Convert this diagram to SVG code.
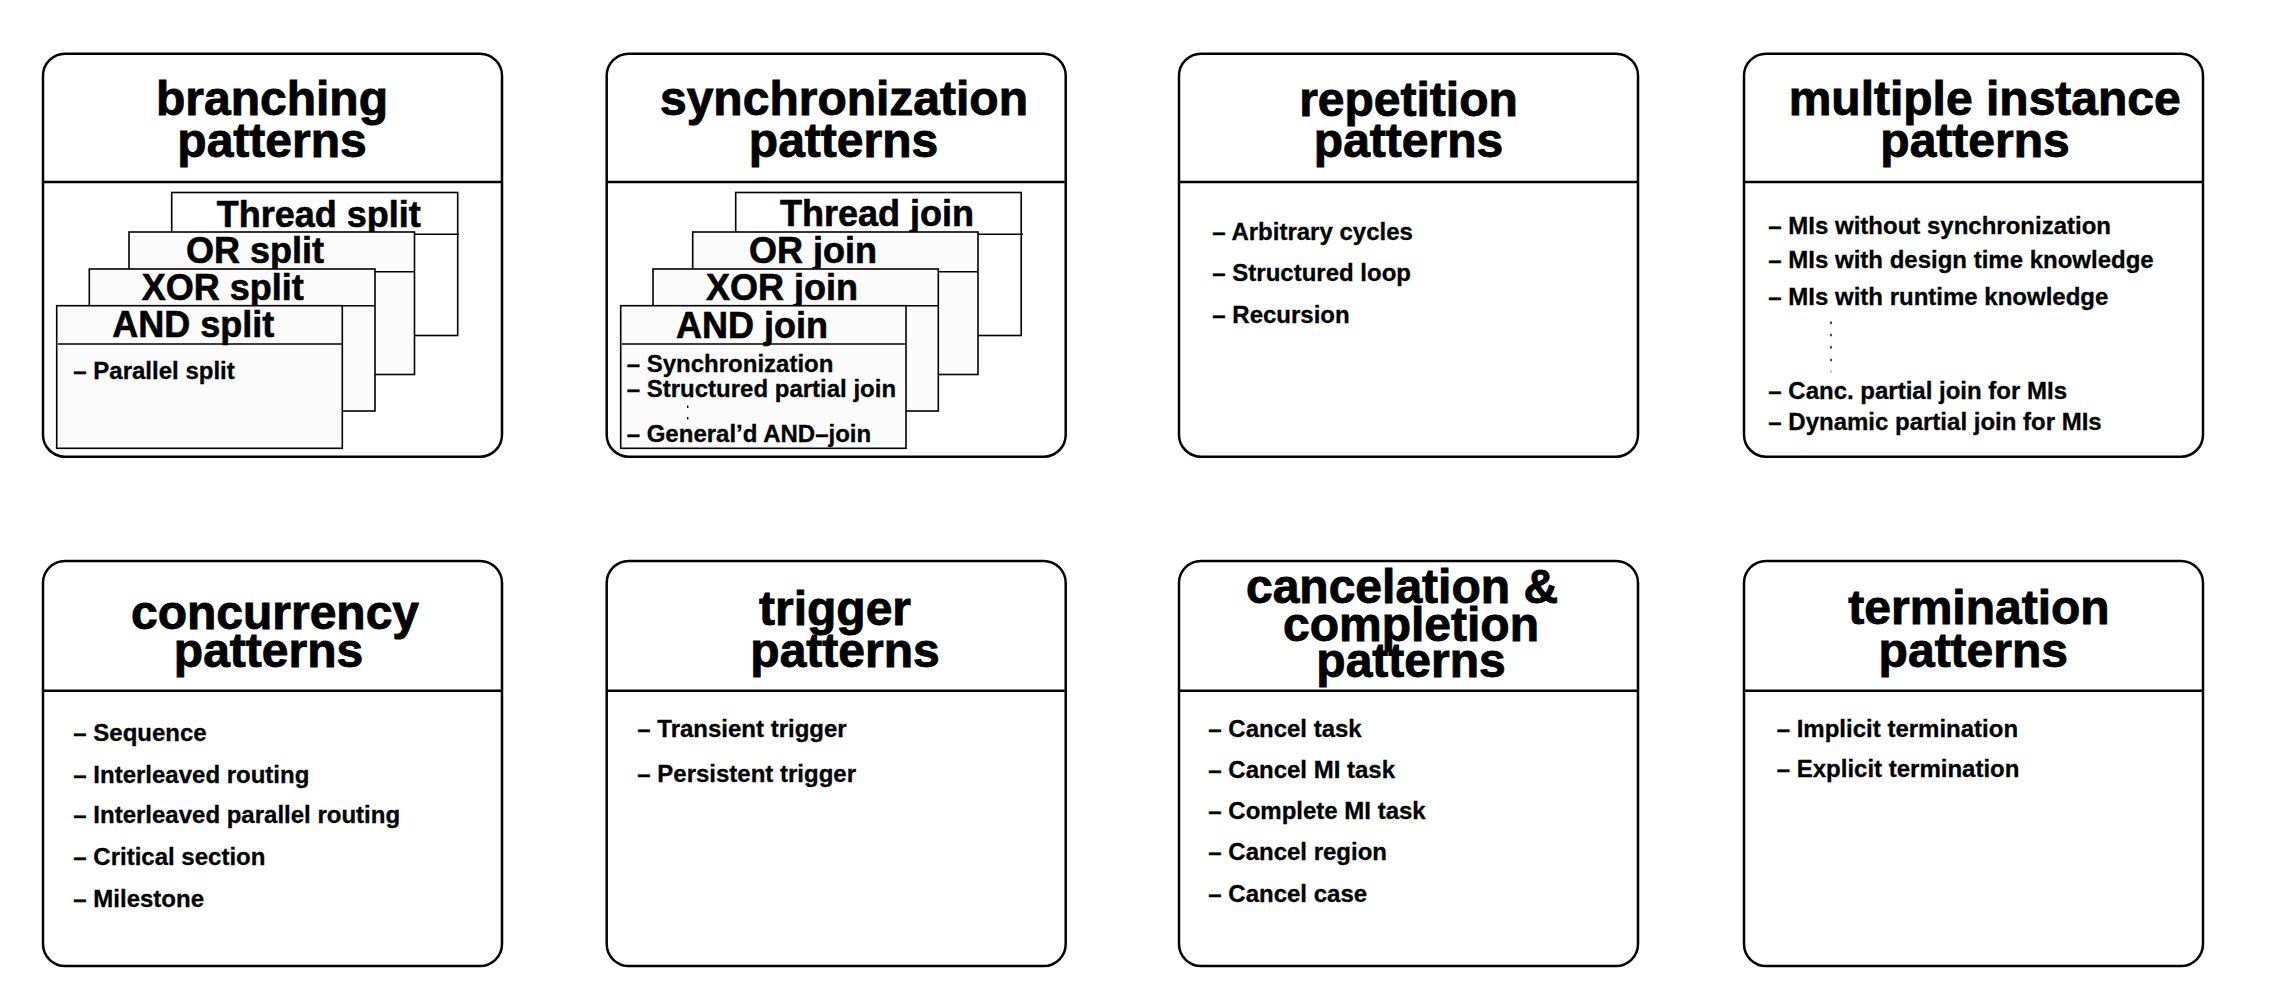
<svg xmlns="http://www.w3.org/2000/svg" width="2274" height="1008" viewBox="0 0 2274 1008">
<style>
.box{fill:#fff;stroke:#000;stroke-width:2.5}
.div{stroke:#000;stroke-width:2.5}
.card{fill:#fbfbfb;stroke:#000;stroke-width:1.6}
.cardw{fill:#fff;stroke:#000;stroke-width:1.6}
.hl{stroke:#000;stroke-width:1.6}
.t{font-family:"Liberation Sans",Arial,Helvetica,sans-serif;font-weight:bold;font-size:48px;text-anchor:middle;fill:#000;stroke:#000;stroke-width:0.9}
.s{font-family:"Liberation Sans",Arial,Helvetica,sans-serif;font-weight:bold;font-size:36px;fill:#000;stroke:#000;stroke-width:0.6}
.i{font-family:"Liberation Sans",Arial,Helvetica,sans-serif;font-weight:bold;font-size:24px;fill:#000;stroke:#000;stroke-width:0.3}
.dot{fill:#000}
</style>
<rect width="2274" height="1008" fill="#fff"/>

<g id="branching">
<rect class="box" x="43" y="53.7" width="459" height="403" rx="22"/>
<line class="div" x1="44" y1="182" x2="501" y2="182"/>
<text class="t" x="272" y="115">branching</text>
<text class="t" x="272" y="157">patterns</text>
<rect class="cardw" x="171.7" y="192.5" width="286" height="143"/>
<line class="hl" x1="171.7" y1="234.3" x2="459" y2="234.3"/>
<text class="s" x="216.7" y="226.7">Thread split</text>
<rect class="card" x="129" y="232" width="285.5" height="142.5"/>
<line class="hl" x1="129" y1="271.7" x2="414.5" y2="271.7"/>
<text class="s" x="186" y="263">OR split</text>
<rect class="card" x="89.3" y="269" width="285.7" height="142"/>
<line class="hl" x1="89.3" y1="305.7" x2="375" y2="305.7"/>
<text class="s" x="141.7" y="300">XOR split</text>
<rect class="card" x="56.7" y="305.7" width="285.6" height="142.6"/>
<line class="hl" x1="58" y1="344" x2="342.3" y2="344"/>
<text class="s" x="112.3" y="336.7">AND split</text>
<text class="i" x="73.3" y="379">– Parallel split</text>
</g>

<g id="synchronization">
<rect class="box" x="606.7" y="53.7" width="459" height="403" rx="22"/>
<line class="div" x1="607.7" y1="182" x2="1064.7" y2="182"/>
<text class="t" x="844" y="115">synchronization</text>
<text class="t" x="843.5" y="157">patterns</text>
<rect class="cardw" x="735.7" y="192.5" width="285.5" height="143"/>
<line class="hl" x1="735.7" y1="234.3" x2="1023" y2="234.3"/>
<text class="s" x="780" y="225.7">Thread join</text>
<rect class="card" x="692.7" y="232" width="285.3" height="142.5"/>
<line class="hl" x1="692.7" y1="271.7" x2="978" y2="271.7"/>
<text class="s" x="749" y="263">OR join</text>
<rect class="card" x="653" y="269" width="285.3" height="142"/>
<line class="hl" x1="653" y1="305.7" x2="938.3" y2="305.7"/>
<text class="s" x="706" y="300">XOR join</text>
<rect class="card" x="620.7" y="305.7" width="285.3" height="142.6"/>
<line class="hl" x1="622" y1="344" x2="906" y2="344"/>
<text class="s" x="676" y="337.7">AND join</text>
<text class="i" x="626.7" y="371.7">– Synchronization</text>
<text class="i" x="626.7" y="396.7">– Structured partial join</text>
<rect class="dot" x="687" y="405.5" width="1.4" height="2.5"/>
<rect class="dot" x="687" y="417" width="1.4" height="2.5"/>
<text class="i" x="626.7" y="441.7">– General’d AND–join</text>
</g>

<g id="repetition">
<rect class="box" x="1179" y="53.7" width="459" height="403" rx="22"/>
<line class="div" x1="1180" y1="182" x2="1637" y2="182"/>
<text class="t" x="1408.5" y="116">repetition</text>
<text class="t" x="1408.5" y="157">patterns</text>
<text class="i" x="1212.3" y="240">– Arbitrary cycles</text>
<text class="i" x="1212.3" y="280.7">– Structured loop</text>
<text class="i" x="1212.3" y="322.7">– Recursion</text>
</g>

<g id="multiple-instance">
<rect class="box" x="1744" y="53.7" width="459" height="403" rx="22"/>
<line class="div" x1="1745" y1="182" x2="2202" y2="182"/>
<text class="t" x="1984.7" y="115">multiple instance</text>
<text class="t" x="1975" y="157">patterns</text>
<text class="i" x="1768.3" y="234">– MIs without synchronization</text>
<text class="i" x="1768.3" y="268.3">– MIs with design time knowledge</text>
<text class="i" x="1768.3" y="305">– MIs with runtime knowledge</text>
<rect class="dot" x="1830.3" y="321.5" width="1.4" height="2.5"/>
<rect class="dot" x="1830.3" y="333.8" width="1.4" height="2.5"/>
<rect class="dot" x="1830.3" y="346.1" width="1.4" height="2.5"/>
<rect class="dot" x="1830.3" y="358.8" width="1.4" height="2.5"/>
<rect class="dot" x="1830.3" y="370.5" width="1.4" height="2" fill-opacity="0.4"/>
<text class="i" x="1768.3" y="399.3">– Canc. partial join for MIs</text>
<text class="i" x="1768.3" y="430">– Dynamic partial join for MIs</text>
</g>

<g id="concurrency">
<rect class="box" x="43" y="561" width="459" height="405" rx="22"/>
<line class="div" x1="44" y1="690.7" x2="501" y2="690.7"/>
<text class="t" x="275" y="629">concurrency</text>
<text class="t" x="268.5" y="667">patterns</text>
<text class="i" x="73.3" y="740.7">– Sequence</text>
<text class="i" x="73.3" y="783.3">– Interleaved routing</text>
<text class="i" x="73.3" y="822.7">– Interleaved parallel routing</text>
<text class="i" x="73.3" y="865">– Critical section</text>
<text class="i" x="73.3" y="907.3">– Milestone</text>
</g>

<g id="trigger">
<rect class="box" x="606.7" y="561" width="459" height="405" rx="22"/>
<line class="div" x1="607.7" y1="690.7" x2="1064.7" y2="690.7"/>
<text class="t" x="835" y="625">trigger</text>
<text class="t" x="845" y="667">patterns</text>
<text class="i" x="637.3" y="737.3">– Transient trigger</text>
<text class="i" x="637.3" y="781.7">– Persistent trigger</text>
</g>

<g id="cancelation">
<rect class="box" x="1179" y="561" width="459" height="405" rx="22"/>
<line class="div" x1="1180" y1="690.7" x2="1637" y2="690.7"/>
<text class="t" x="1402" y="603">cancelation &amp;</text>
<text class="t" x="1411" y="641">completion</text>
<text class="t" x="1411" y="677">patterns</text>
<text class="i" x="1208.3" y="737.3">– Cancel task</text>
<text class="i" x="1208.3" y="778.3">– Cancel MI task</text>
<text class="i" x="1208.3" y="819.3">– Complete MI task</text>
<text class="i" x="1208.3" y="860">– Cancel region</text>
<text class="i" x="1208.3" y="901.7">– Cancel case</text>
</g>

<g id="termination">
<rect class="box" x="1744" y="561" width="459" height="405" rx="22"/>
<line class="div" x1="1745" y1="690.7" x2="2202" y2="690.7"/>
<text class="t" x="1979" y="624">termination</text>
<text class="t" x="1973.3" y="667">patterns</text>
<text class="i" x="1776.7" y="737.3">– Implicit termination</text>
<text class="i" x="1776.7" y="776.7">– Explicit termination</text>
</g>

<g id="connectors"></g>
</svg>
